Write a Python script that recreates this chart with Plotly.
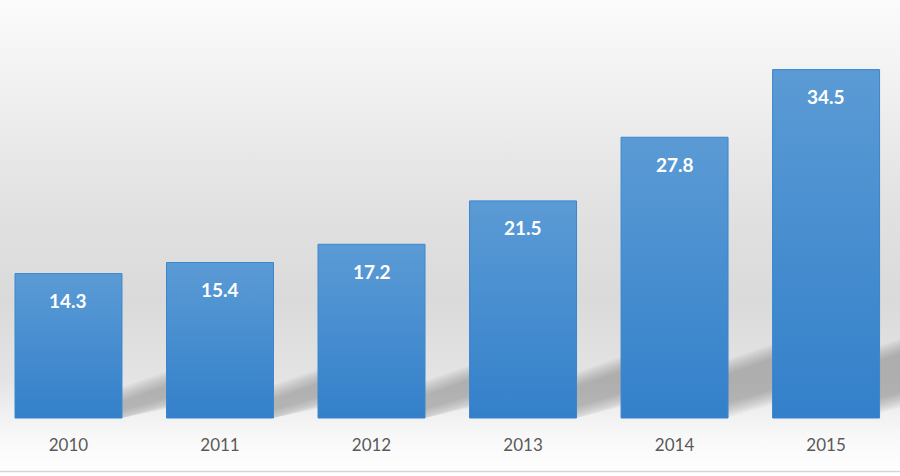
import plotly.graph_objects as go

# data
years = ['2010', '2011', '2012', '2013', '2014', '2015']
values = [14.3, 15.4, 17.2, 21.5, 27.8, 34.5]

BAR_W = 0.706
PX_X = 151.5      # px per category
PX_Y = 10.1       # px per unit
Y_LO, Y_HI = -5.74, 41.39

fig = go.Figure()

# background gradient (whole canvas)
bg_scale = [
    [0.0, '#ffffff'],
    [0.076, '#f9f9f9'],
    [0.122, '#f2f2f2'],
    [0.20, '#e4e4e4'],
    [0.37, '#dadada'],
    [0.58, '#e2e2e2'],
    [0.79, '#efefef'],
    [1.0, '#fbfbfb'],
]
fig.add_trace(go.Scatter(
    x=[-1, 7, 7, -1, -1], y=[Y_LO, Y_LO, Y_HI, Y_HI, Y_LO],
    mode='lines', line_width=0, fill='toself',
    fillgradient=dict(type='vertical', colorscale=bg_scale, start=Y_LO, stop=Y_HI),
    hoverinfo='skip'))

# soft shadows cast to the right of each bar (stacked layers = blur)
for i, v in enumerate(values):
    h = v * PX_Y
    xr = i + BAR_W / 2
    for blur in range(0, 16, 2):
        xs, lo, up = [], [], []
        for d in (0, 80):
            xs.append(xr + d / PX_X)
            lo.append(max(0, 0.06 * h - 2 + 0.3 * d - blur) / PX_Y)
            up.append((0.2 * h - 12 + 0.35 * d + blur) / PX_Y)
        fig.add_trace(go.Scatter(
            x=[xs[0], xs[1], xs[1], xs[0], xs[0]],
            y=[lo[0], lo[1], up[1], up[0], lo[0]],
            mode='lines', line_width=0, fill='toself',
            fillcolor='rgba(115,115,115,0.07)', hoverinfo='skip'))

# bars with a vertical gradient
for i, v in enumerate(values):
    x0, x1 = i - BAR_W / 2, i + BAR_W / 2
    fig.add_trace(go.Scatter(
        x=[x0, x1, x1, x0, x0], y=[0, 0, v, v, 0],
        mode='lines', line=dict(color='#3b86cf', width=1), fill='toself',
        fillgradient=dict(type='vertical',
                          colorscale=[[0, '#3380ca'], [1, '#5b9bd5']],
                          start=0, stop=v),
        hoverinfo='skip'))

# value labels inside the bars
for i, v in enumerate(values):
    fig.add_annotation(x=i, y=v, yshift=-27, text=f'{v}', showarrow=False,
                       font=dict(family='Lato', size=19, color='white', weight='bold'))

# year labels
fig.add_trace(go.Scatter(
    x=list(range(len(years))), y=[-2.85] * len(years), text=years,
    mode='text', textfont=dict(family='Lato', size=17, color='#595959'),
    hoverinfo='skip'))

fig.add_shape(type='line', xref='paper', x0=0, x1=1, y0=-5.3, y1=-5.3,
              line=dict(color='#d6d6d6', width=1.5))

fig.update_layout(
    width=900, height=476,
    margin=dict(l=0, r=0, t=0, b=0),
    paper_bgcolor='white', plot_bgcolor='white',
    showlegend=False,
    xaxis=dict(range=[-0.452, 5.488], visible=False),
    yaxis=dict(range=[Y_LO, Y_HI], visible=False),
)

fig.write_html('out.html', config={'displayModeBar': False},
               post_script="document.body.style.margin='0';")
